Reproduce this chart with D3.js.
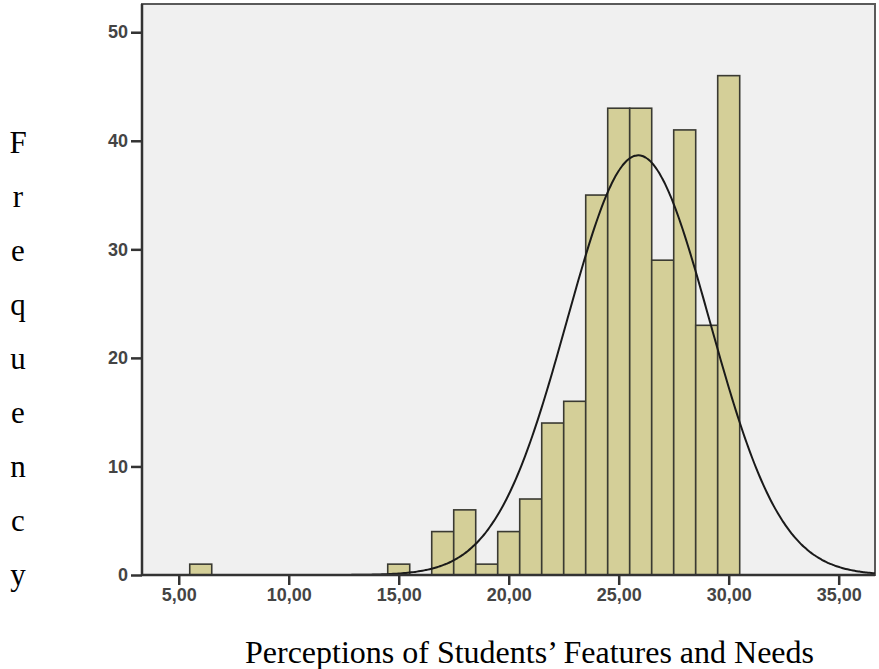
<!DOCTYPE html>
<html>
<head>
<meta charset="utf-8">
<script src="https://cdn.jsdelivr.net/npm/d3@7"></script>
<style>
  html, body { margin: 0; padding: 0; background: #ffffff; }
  svg { display: block; }
</style>
</head>
<body>
<svg id="chart" width="879" height="669"></svg>
<script>
// ---- data ----
const binCenters = [6, 15, 17, 18, 19, 20, 21, 22, 23, 24, 25, 26, 27, 28, 29, 30];
const frequencies = [1, 1, 4, 6, 1, 4, 7, 14, 16, 35, 43, 43, 29, 41, 23, 46];
const binWidth = 1;
const xTickValues = [5, 10, 15, 20, 25, 30, 35];
const yTickValues = [0, 10, 20, 30, 40, 50];
const normalMean = 25.89;
const normalSD = 3.24;
const sampleN = 314;
const xTitle = "Perceptions of Students\u2019 Features and Needs";
const yTitle = "Frequency";

// ---- layout ----
const svg = d3.select("#chart");
const plot = { left: 142, right: 875, top: 4, bottom: 575 };

const x = d3.scaleLinear().domain([3.33, 36.65]).range([plot.left, plot.right]);
const y = d3.scaleLinear().domain([0, 52.6]).range([plot.bottom, plot.top]);

// plot background
svg.append("rect")
  .attr("x", plot.left).attr("y", plot.top)
  .attr("width", plot.right - plot.left).attr("height", plot.bottom - plot.top)
  .attr("fill", "#f0f0f0")
  .attr("stroke", "#5a5a5a").attr("stroke-width", 2);

// bars
const bars = binCenters.map((c, i) => ({ c, f: frequencies[i] }));
svg.append("g").selectAll("rect").data(bars).join("rect")
  .attr("x", d => x(d.c - binWidth / 2))
  .attr("y", d => y(d.f))
  .attr("width", d => x(d.c + binWidth / 2) - x(d.c - binWidth / 2))
  .attr("height", d => y(0) - y(d.f))
  .attr("fill", "#d4cf98")
  .attr("stroke", "#3a3a32")
  .attr("stroke-width", 1.6);

// normal curve
const dom = x.domain();
const pts = d3.range(0, 401).map(i => {
  const v = dom[0] + (dom[1] - dom[0]) * i / 400;
  const dens = Math.exp(-0.5 * Math.pow((v - normalMean) / normalSD, 2)) / (normalSD * Math.sqrt(2 * Math.PI));
  return [v, dens * sampleN * binWidth];
});
svg.append("path")
  .datum(pts)
  .attr("d", d3.line().x(d => x(d[0])).y(d => y(d[1])).curve(d3.curveBasis))
  .attr("fill", "none")
  .attr("stroke", "#1a1a1a")
  .attr("stroke-width", 2);

// axes
const xAxis = d3.axisBottom(x).tickValues(xTickValues)
  .tickFormat(d => d3.format(".2f")(d).replace(".", ","))
  .tickSize(10).tickPadding(3);
const yAxis = d3.axisLeft(y).tickValues(yTickValues)
  .tickFormat(d3.format("d"))
  .tickSize(11).tickPadding(3);

const gx = svg.append("g").attr("transform", `translate(0,${plot.bottom})`).call(xAxis);
const gy = svg.append("g").attr("transform", `translate(${plot.left},0)`).call(yAxis);

[gx, gy].forEach(g => {
  g.select(".domain").attr("stroke", "#333").attr("stroke-width", 2.5);
  g.selectAll(".tick line").attr("stroke", "#333").attr("stroke-width", 2.5);
  g.selectAll(".tick text")
    .attr("fill", "#444")
    .style("font-family", "'Liberation Sans', Arial, sans-serif")
    .style("font-size", "18px")
    .style("font-weight", "bold");
});
gx.select(".domain").attr("d", `M${plot.left},0H${plot.right}`);
gy.select(".domain").attr("d", `M0,${plot.bottom}V${plot.top}`);

// x title
svg.append("text")
  .attr("x", (246 + 813) / 2).attr("y", 663)
  .attr("text-anchor", "middle")
  .style("font-family", "'Liberation Serif', 'Times New Roman', serif")
  .style("font-size", "32px")
  .attr("fill", "#000")
  .text(xTitle);

// y title: stacked letters
svg.append("g").selectAll("text").data(yTitle.split("")).join("text")
  .attr("x", 18)
  .attr("y", (d, i) => 153 + i * 54)
  .attr("text-anchor", "middle")
  .style("font-family", "'Liberation Serif', 'Times New Roman', serif")
  .style("font-size", "31px")
  .attr("fill", "#000")
  .text(d => d);
</script>
</body>
</html>
